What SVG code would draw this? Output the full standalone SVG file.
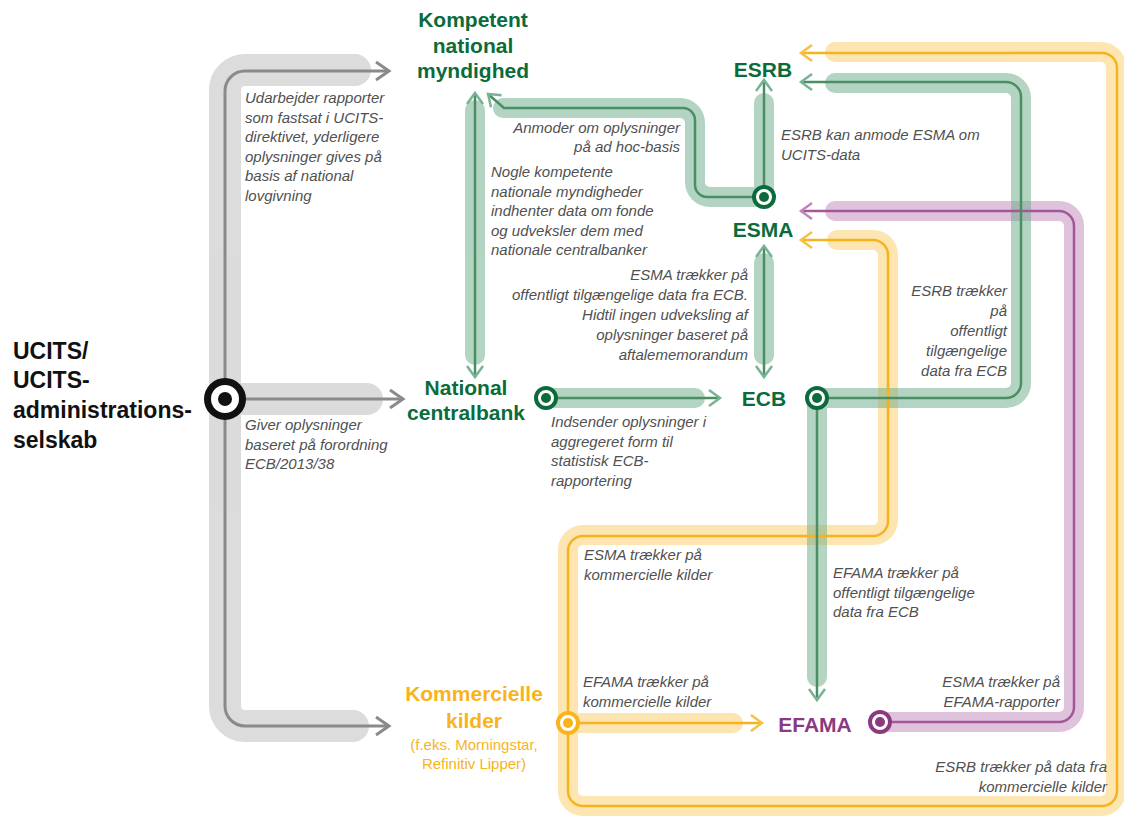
<svg xmlns="http://www.w3.org/2000/svg" width="1124" height="817" viewBox="0 0 1124 817">
<style>
.band{fill:none;stroke-linecap:round;stroke-linejoin:round}
.bg{stroke:#b9b9b9;stroke-width:32}
.bgr{stroke:#6aab86;stroke-width:20}
.by{stroke:#fbcd65;stroke-width:20}
.bp{stroke:#bf87b9;stroke-width:20}
.ln{fill:none;stroke-linecap:butt;stroke-linejoin:round}
.lg{stroke:#8a8a8a;stroke-width:3}
.lgr{stroke:#4a8f64;stroke-width:2.5}
.ly{stroke:#f5b31e;stroke-width:2.5}
.lp{stroke:#a3579a;stroke-width:2.5}
.lbl{font-family:"Liberation Sans",Arial,sans-serif;font-style:italic;font-size:15px;fill:#505050}
.r{text-anchor:end}
.ttl{font-family:"Liberation Sans",Arial,sans-serif;font-weight:bold;text-anchor:middle;font-size:21px}
.green{fill:#0b6b3a}
.orange{fill:#f9b31b}
.purple{fill:#8b3a80}
.sub{font-family:"Liberation Sans",Arial,sans-serif;font-size:15px;text-anchor:middle;fill:#f9b31b}
</style>
<defs>
<marker id="ah-gray" markerUnits="userSpaceOnUse" viewBox="0 0 20 20" markerWidth="20" markerHeight="20" refX="15" refY="10" orient="auto-start-reverse"><path d="M2,1 L15,10 L2,19" fill="none" stroke="#8a8a8a" stroke-width="3"/></marker>
<marker id="ah-green" markerUnits="userSpaceOnUse" viewBox="0 0 20 20" markerWidth="20" markerHeight="20" refX="15" refY="10" orient="auto-start-reverse"><path d="M4,2 L15,10 L4,18" fill="none" stroke="#78b493" stroke-width="2.5"/></marker>
<marker id="ah-yellow" markerUnits="userSpaceOnUse" viewBox="0 0 20 20" markerWidth="20" markerHeight="20" refX="15" refY="10" orient="auto-start-reverse"><path d="M4,2 L15,10 L4,18" fill="none" stroke="#f8bf45" stroke-width="2.5"/></marker>
<marker id="ah-purple" markerUnits="userSpaceOnUse" viewBox="0 0 20 20" markerWidth="20" markerHeight="20" refX="15" refY="10" orient="auto-start-reverse"><path d="M4,2 L15,10 L4,18" fill="none" stroke="#c184b8" stroke-width="2.5"/></marker>
</defs>

<g id="connectors">
  <g id="bands-gray" opacity="0.5">
    <path class="band bg" d="M355,70 H245 A20 20 0 0 0 225 90 V706 A20 20 0 0 0 245 726 H353"/>
    <path class="band bg" d="M225,399 H367"/>
  </g>
  <g id="bands-yellow" opacity="0.5">
    <path class="band by" d="M568,723 H733"/>
    <path class="band by" d="M568,723 V550 A15 15 0 0 1 583 535 H873 A15 15 0 0 0 888 520 V255 A15 15 0 0 0 873 240 H837"/>
    <path class="band by" d="M568,723 V791 A15 15 0 0 0 583 806 H1101 A15 15 0 0 0 1116 791 V67 A15 15 0 0 0 1101 52 H835"/>
  </g>
  <g id="bands-purple" opacity="0.5">
    <path class="band bp" d="M880,722 H1059 A15 15 0 0 0 1074 707 V226 A15 15 0 0 0 1059 211 H835"/>
  </g>
  <g id="bands-green" opacity="0.5">
    <path class="band bgr" d="M475,110 V355"/>
    <path class="band bgr" d="M764,103 V197 H710 A15 15 0 0 1 695 182 V123 A15 15 0 0 0 680 108 H503"/>
    <path class="band bgr" d="M764,263 V355"/>
    <path class="band bgr" d="M546,398 H695"/>
    <path class="band bgr" d="M817,398 H1006 A15 15 0 0 0 1021 383 V98 A15 15 0 0 0 1006 83 H835"/>
    <path class="band bgr" d="M817,398 V677"/>
  </g>

  <g id="lines">
    <path class="ln lg" d="M389,71 H245 A20 20 0 0 0 225 91 V706 A20 20 0 0 0 245 726 H389" marker-start="url(#ah-gray)" marker-end="url(#ah-gray)"/>
    <path class="ln lg" d="M225,399 H403" marker-end="url(#ah-gray)"/>

    <path class="ln ly" d="M568,723 H762" marker-end="url(#ah-yellow)"/>
    <path class="ln ly" d="M568,723 V551 A15 15 0 0 1 583 536 H873 A15 15 0 0 0 888 521 V255 A15 15 0 0 0 873 240 H801" marker-end="url(#ah-yellow)"/>
    <path class="ln ly" d="M568,723 V791 A15 15 0 0 0 583 806 H1102 A15 15 0 0 0 1117 791 V68 A15 15 0 0 0 1102 53 H801" marker-end="url(#ah-yellow)"/>

    <path class="ln lp" d="M880,722 H1059 A15 15 0 0 0 1074 707 V226 A15 15 0 0 0 1059 211 H801" marker-end="url(#ah-purple)"/>

    <path class="ln lgr" d="M475,93 V377" marker-start="url(#ah-green)" marker-end="url(#ah-green)"/>
    <path class="ln lgr" d="M764,196 V80" marker-end="url(#ah-green)"/>
    <path class="ln lgr" d="M764,197 H707 A12 12 0 0 1 695 185 V120 A12 12 0 0 0 683 108 H504 L488 94" marker-end="url(#ah-green)"/>
    <path class="ln lgr" d="M764,246 V377" marker-start="url(#ah-green)" marker-end="url(#ah-green)"/>
    <path class="ln lgr" d="M546,398 H720" marker-end="url(#ah-green)"/>
    <path class="ln lgr" d="M817,398 H1006 A15 15 0 0 0 1021 383 V97 A15 15 0 0 0 1006 82 H801" marker-end="url(#ah-green)"/>
    <path class="ln lgr" d="M817,398 V700" marker-end="url(#ah-green)"/>
  </g>
</g>

<g id="node-ucits">
  <circle cx="225" cy="399" r="17.5" fill="#fff" stroke="#111" stroke-width="7"/>
  <circle cx="225" cy="399" r="7" fill="#111"/>
  <text font-family="'Liberation Sans',Arial,sans-serif" font-weight="bold" font-size="23" fill="#111">
    <tspan x="13" y="359">UCITS/</tspan>
    <tspan x="13" y="388">UCITS-</tspan>
    <tspan x="13" y="418">administrations-</tspan>
    <tspan x="13" y="448">selskab</tspan>
  </text>
</g>

<g id="node-kompetent">
  <text class="ttl green"><tspan x="473" y="27">Kompetent</tspan><tspan x="473" y="52.5">national</tspan><tspan x="473" y="78">myndighed</tspan></text>
</g>

<g id="node-ncb">
  <text class="ttl green"><tspan x="466" y="395">National</tspan><tspan x="466" y="420">centralbank</tspan></text>
  <circle cx="546" cy="398" r="10" fill="#fff" stroke="#0b6b3a" stroke-width="4"/>
  <circle cx="546" cy="398" r="5" fill="#0b6b3a"/>
</g>

<g id="node-esrb">
  <text class="ttl green" x="763" y="77" font-size="20">ESRB</text>
</g>

<g id="node-esma">
  <text class="ttl green" x="763" y="237" font-size="20">ESMA</text>
  <circle cx="764" cy="197" r="10" fill="#fff" stroke="#0b6b3a" stroke-width="4"/>
  <circle cx="764" cy="197" r="5" fill="#0b6b3a"/>
</g>

<g id="node-ecb">
  <text class="ttl green" x="764" y="406" font-size="20">ECB</text>
  <circle cx="817" cy="398" r="10" fill="#fff" stroke="#0b6b3a" stroke-width="4"/>
  <circle cx="817" cy="398" r="5" fill="#0b6b3a"/>
</g>

<g id="node-efama">
  <text class="ttl purple" x="815" y="732" font-size="20">EFAMA</text>
  <circle cx="880" cy="722" r="10" fill="#fff" stroke="#8b3a80" stroke-width="4"/>
  <circle cx="880" cy="722" r="5" fill="#8b3a80"/>
</g>

<g id="node-kommercielle">
  <text class="ttl orange" font-size="20.5"><tspan x="474" y="701">Kommercielle</tspan><tspan x="474" y="728">kilder</tspan></text>
  <text class="sub"><tspan x="474" y="750">(f.eks. Morningstar,</tspan><tspan x="474" y="769">Refinitiv Lipper)</tspan></text>
  <circle cx="568" cy="723" r="10" fill="#fff" stroke="#f9b31b" stroke-width="4"/>
  <circle cx="568" cy="723" r="5" fill="#f9b31b"/>
</g>

<g id="labels">
  <text class="lbl"><tspan x="245" y="103">Udarbejder rapporter</tspan><tspan x="245" y="122.6">som fastsat i UCITS-</tspan><tspan x="245" y="142.2">direktivet, yderligere</tspan><tspan x="245" y="161.8">oplysninger gives på</tspan><tspan x="245" y="181.4">basis af national</tspan><tspan x="245" y="201">lovgivning</tspan></text>
  <text class="lbl r"><tspan x="680" y="133">Anmoder om oplysninger</tspan><tspan x="680" y="152">på ad hoc-basis</tspan></text>
  <text class="lbl"><tspan x="491" y="177">Nogle kompetente</tspan><tspan x="491" y="196.5">nationale myndigheder</tspan><tspan x="491" y="216">indhenter data om fonde</tspan><tspan x="491" y="235.5">og udveksler dem med</tspan><tspan x="491" y="255">nationale centralbanker</tspan></text>
  <text class="lbl"><tspan x="781" y="140">ESRB kan anmode ESMA om</tspan><tspan x="781" y="159.5">UCITS-data</tspan></text>
  <text class="lbl r"><tspan x="748" y="280">ESMA trækker på</tspan><tspan x="748" y="300">offentligt tilgængelige data fra ECB.</tspan><tspan x="748" y="320">Hidtil ingen udveksling af</tspan><tspan x="748" y="340">oplysninger baseret på</tspan><tspan x="748" y="360">aftalememorandum</tspan></text>
  <text class="lbl r"><tspan x="1007" y="296">ESRB trækker</tspan><tspan x="1007" y="316">på</tspan><tspan x="1007" y="336">offentligt</tspan><tspan x="1007" y="356">tilgængelige</tspan><tspan x="1007" y="376">data fra ECB</tspan></text>
  <text class="lbl"><tspan x="245" y="430">Giver oplysninger</tspan><tspan x="245" y="449.5">baseret på forordning</tspan><tspan x="245" y="469">ECB/2013/38</tspan></text>
  <text class="lbl"><tspan x="551" y="427">Indsender oplysninger i</tspan><tspan x="551" y="446.5">aggregeret form til</tspan><tspan x="551" y="466">statistisk ECB-</tspan><tspan x="551" y="485.5">rapportering</tspan></text>
  <text class="lbl"><tspan x="584" y="560">ESMA trækker på</tspan><tspan x="584" y="580">kommercielle kilder</tspan></text>
  <text class="lbl"><tspan x="833" y="578">EFAMA trækker på</tspan><tspan x="833" y="597.5">offentligt tilgængelige</tspan><tspan x="833" y="617">data fra ECB</tspan></text>
  <text class="lbl"><tspan x="583" y="687">EFAMA trækker på</tspan><tspan x="583" y="707">kommercielle kilder</tspan></text>
  <text class="lbl r"><tspan x="1060" y="687">ESMA trækker på</tspan><tspan x="1060" y="707">EFAMA-rapporter</tspan></text>
  <text class="lbl r"><tspan x="1107" y="772">ESRB trækker på data fra</tspan><tspan x="1107" y="792">kommercielle kilder</tspan></text>
</g>
</svg>
